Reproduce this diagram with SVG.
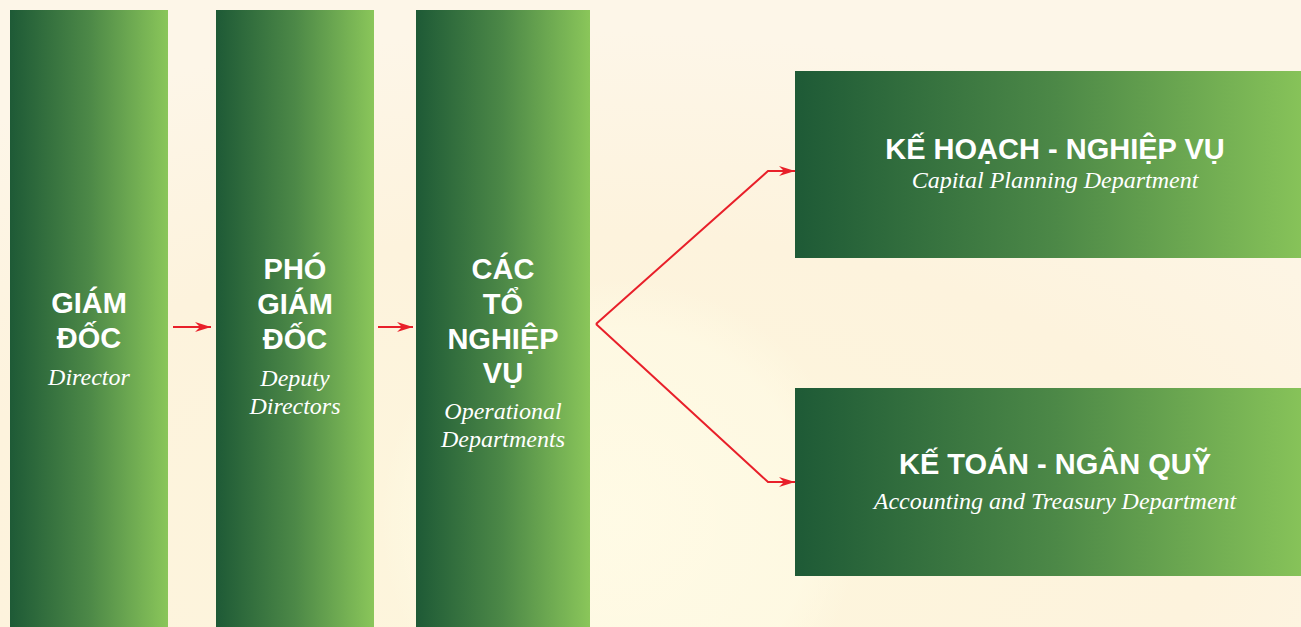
<svg xmlns="http://www.w3.org/2000/svg" width="1301" height="627" viewBox="0 0 1301 627">
<style>
.t{font-family:"Liberation Sans",Arial,sans-serif;font-weight:bold;font-size:29px;fill:#fff;text-anchor:middle}
.s{font-family:"Liberation Serif","Times New Roman",serif;font-style:italic;font-size:24px;fill:#fff;text-anchor:middle}
.c{fill:none;stroke:#e8202a;stroke-width:2}
</style>
<defs>
<linearGradient id="g" x1="0" y1="0" x2="1" y2="0">
<stop offset="0" stop-color="#1e5a36"/>
<stop offset="0.5" stop-color="#4c8847"/>
<stop offset="1" stop-color="#8ac65a"/>
</linearGradient>
<radialGradient id="bg" cx="0.45" cy="0.85" r="0.8">
<stop offset="0" stop-color="#fdf6dc"/>
<stop offset="0.6" stop-color="#fdf3dd"/>
<stop offset="1" stop-color="#fdf6e8"/>
</radialGradient>
<radialGradient id="glow" cx="0.5" cy="0.5" r="0.5">
<stop offset="0" stop-color="#fffbe6" stop-opacity="0.9"/>
<stop offset="0.8" stop-color="#fffbe6" stop-opacity="0.6"/>
<stop offset="1" stop-color="#fffbe6" stop-opacity="0"/>
</radialGradient>
<marker id="ah2" viewBox="0 0 16 10" refX="16" refY="5" markerWidth="16" markerHeight="10" markerUnits="userSpaceOnUse" orient="auto">
<path d="M0,0 L16,5 L0,10 L5,5 Z" fill="#e8202a"/>
</marker>
</defs>
<rect width="1301" height="627" fill="url(#bg)"/>
<circle cx="620" cy="520" r="240" fill="url(#glow)"/>
<g id="connectors">
<path class="c" d="M173,327 H211" marker-end="url(#ah2)"/>
<path class="c" d="M378,327 H413" marker-end="url(#ah2)"/>
<path class="c" d="M596,324 L768,171 H795" marker-end="url(#ah2)"/>
<path class="c" d="M596,324 L768,482 H795" marker-end="url(#ah2)"/>
</g>
<g id="node-giam-doc">
<rect x="10" y="10" width="158" height="617" fill="url(#g)"/>
<text class="t" x="89" y="313">GIÁM</text>
<text class="t" x="89" y="348">ĐỐC</text>
<text class="s" x="89" y="385">Director</text>
</g>
<g id="node-pho-giam-doc">
<rect x="216" y="10" width="158" height="617" fill="url(#g)"/>
<text class="t" x="295" y="279">PHÓ</text>
<text class="t" x="295" y="314">GIÁM</text>
<text class="t" x="295" y="349">ĐỐC</text>
<text class="s" x="295" y="386">Deputy</text>
<text class="s" x="295" y="414">Directors</text>
</g>
<g id="node-cac-to">
<rect x="416" y="10" width="174" height="617" fill="url(#g)"/>
<text class="t" x="503" y="279">CÁC</text>
<text class="t" x="503" y="314">TỔ</text>
<text class="t" x="503" y="349">NGHIỆP</text>
<text class="t" x="503" y="383">VỤ</text>
<text class="s" x="503" y="419">Operational</text>
<text class="s" x="503" y="447">Departments</text>
</g>
<g id="node-ke-hoach">
<rect x="795" y="71" width="520" height="187" fill="url(#g)"/>
<text class="t" x="1055" y="159">KẾ HOẠCH - NGHIỆP VỤ</text>
<text class="s" x="1055" y="188">Capital Planning Department</text>
</g>
<g id="node-ke-toan">
<rect x="795" y="388" width="520" height="188" fill="url(#g)"/>
<text class="t" x="1055" y="474">KẾ TOÁN - NGÂN QUỸ</text>
<text class="s" x="1055" y="509">Accounting and Treasury Department</text>
</g>
</svg>
